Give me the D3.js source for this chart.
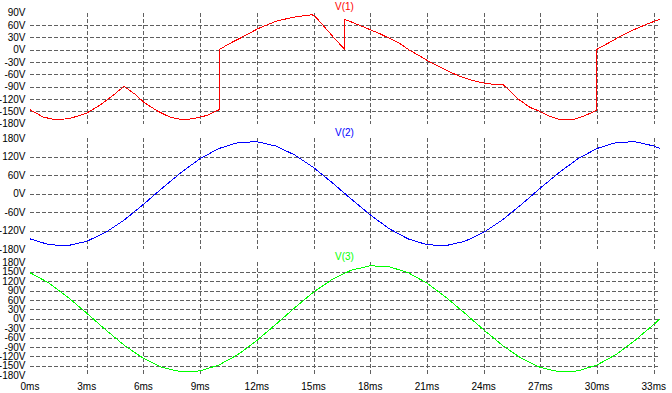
<!DOCTYPE html>
<html>
<head>
<meta charset="utf-8">
<script src="https://cdn.jsdelivr.net/npm/d3@7"></script>
<style>
body { margin:0; background:#fff; }
svg { display:block; font-family:"Liberation Sans", Arial, sans-serif; font-size:10px; }
.grid { stroke:#606060; stroke-width:1; stroke-dasharray:4,2; shape-rendering:crispEdges; }
.trace { fill:none; stroke-width:1; shape-rendering:crispEdges; }
</style>
</head>
<body>
<svg id="plot"></svg>
<script>
// time axis (ms) and tick labels
var xTicks = [3,6,9,12,15,18,21,24,27,30,33];
var xLabels = [0,3,6,9,12,15,18,21,24,27,30,33];
var tEnd = 33.33;

// V(1): read point by point, jumps kept as repeated times
var v1Time = [0,0.7,1.33,2.03,2.64,3.0,3.7,4.4,4.97,5.64,5.99,6.7,7.4,8.02,8.63,9.35,10.0,
              10.0,10.56,11.24,12.05,13.0,13.92,14.9,15.05,15.51,16.04,16.66,
              16.66,16.92,17.45,17.98,18.51,19.04,19.57,20.1,20.62,21.15,21.68,22.21,22.74,23.27,23.8,24.2,25.03,
              25.2,25.74,26.44,26.97,27.5,28.03,28.73,29.26,29.97,
              29.97,30.14,30.67,31.2,31.73,32.26,32.79,33.33];
var v1Values = [-146,-164,-170,-168,-160,-154,-135,-111,-89,-111,-127,-148,-164,-170,-168,-160,-146,
                0,15,31,51,69,79,85,83,59,31,0,
                73,69,59,49,39,27,15,-2,-15,-30,-42,-54,-65,-73,-79,-83,-85,
                -92,-117,-140,-150,-162,-170,-170,-162,-148,
                0,5,18,32,44,55,65,74];

// V(2) and V(3) sampled each ms
var sineTime = [0,1,2,3,4,5,6,7,8,9,10,11,12,13,14,15,16,17,18,19,20,21,22,23,24,25,26,27,28,29,30,31,32,33,33.33];
var v2Values = [-147,-166,-169,-155,-126,-85,-35,18,69,114,147,166,169,155,126,85,35,-18,-69,-114,-147,-166,-169,-155,-126,-85,-35,18,69,114,147,166,169,155,147];
var v3Values = [147,114,69,18,-35,-85,-126,-155,-169,-166,-147,-114,-69,-18,35,85,126,155,169,166,147,114,69,18,-35,-85,-126,-155,-169,-166,-147,-114,-69,-18,0];

var p1Ticks = [90,60,30,0,-30,-60,-90,-120,-150,-180];
var p2Ticks = [180,120,60,0,-60,-120,-180];
var p3Ticks = [180,150,120,90,60,30,0,-30,-60,-90,-120,-150,-180];

var width = 672;
var height = 393;
var svg = d3.select("#plot")
			.attr("width", width)
			.attr("height", height);

var x = d3.scaleLinear()
			.domain([0, tEnd])
			.range([30, 660]);

var panels = [
	{ name:"V(1)", color:"#ff0000", dom:[-180,90], top:12.7, bottom:123.7, ticks:p1Ticks, t:v1Time, v:v1Values },
	{ name:"V(2)", color:"#0000ff", dom:[-180,180], top:138.3, bottom:249, ticks:p2Ticks, t:sineTime, v:v2Values },
	{ name:"V(3)", color:"#00ff00", dom:[-180,180], top:262.3, bottom:375.3, ticks:p3Ticks, t:sineTime, v:v3Values }
];

panels.forEach(function(p){
	var y = d3.scaleLinear()
				.domain(p.dom)
				.range([p.bottom, p.top]);

	// horizontal grid, only inside the panel
	var inner = p.ticks.filter(function(d){ return d > p.dom[0] && d < p.dom[1]; });
	svg.append("g").selectAll("line")
		.data(inner)
		.enter()
		.append("line")
		.attr("class","grid")
		.attr("x1", x(0))
		.attr("x2", x(tEnd))
		.attr("y1", function(d){ return Math.round(y(d)) + 0.5; })
		.attr("y2", function(d){ return Math.round(y(d)) + 0.5; });

	// vertical grid
	svg.append("g").selectAll("line")
		.data(xTicks)
		.enter()
		.append("line")
		.attr("class","grid")
		.attr("x1", function(d){ return Math.round(x(d)) + 0.5; })
		.attr("x2", function(d){ return Math.round(x(d)) + 0.5; })
		.attr("y1", p.top)
		.attr("y2", p.bottom);

	// y tick labels
	svg.append("g").selectAll("text")
		.data(p.ticks)
		.enter()
		.append("text")
		.attr("x", 25.5)
		.attr("y", function(d){ return y(d); })
		.attr("dy","0.36em")
		.attr("text-anchor","end")
		.attr("fill","#000")
		.text(function(d){ return d + "V"; });

	// title
	svg.append("text")
		.attr("x", 344.5)
		.attr("y", p.top - 2.5)
		.attr("text-anchor","middle")
		.attr("fill", p.color)
		.text(p.name);

	var line = d3.line()
				.x(function(d){ return x(d[0]); })
				.y(function(d){ return y(d[1]); });
	var pts = p.t.map(function(t, i){ return [t, p.v[i]]; });
	svg.append("path")
		.attr("class","trace")
		.attr("stroke", p.color)
		.attr("d", line(pts));
});

// time labels
svg.append("g").selectAll("text")
	.data(xLabels)
	.enter()
	.append("text")
	.attr("x", function(d){ return x(d); })
	.attr("y", 390)
	.attr("text-anchor","middle")
	.attr("fill","#000")
	.text(function(d){ return d + "ms"; });
</script>
</body>
</html>
